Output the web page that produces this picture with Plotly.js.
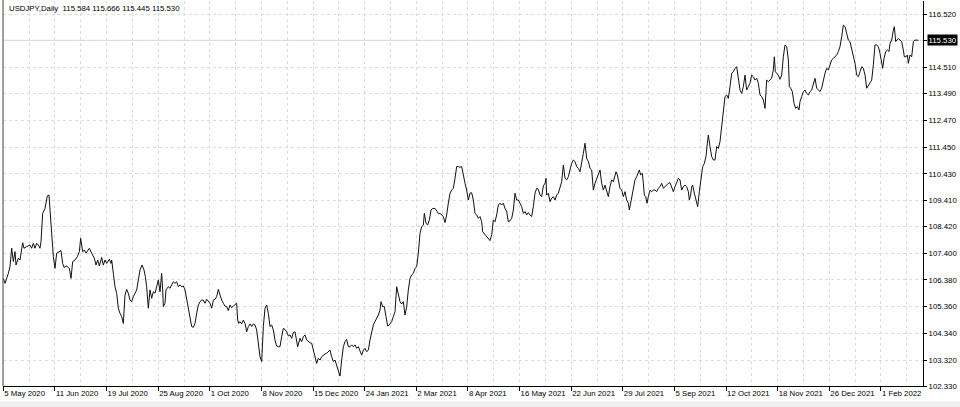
<!DOCTYPE html>
<html>
<head>
<meta charset="utf-8">
<script src="https://cdn.plot.ly/plotly-3.0.1.min.js"></script>
<style>
html,body{margin:0;padding:0;background:#fff;}
#chart{width:960px;height:407px;}
</style>
</head>
<body>
<div id="chart"></div>
<script>
// Trading-day position (days since 5 May 2020) and daily close, USDJPY
const dayA = [
0.0,0.86,2.54,3.38,4.22,5.05,5.89,6.40,7.57,8.41,
9.76,10.43,11.77,13.45,14.29,15.13,15.97,16.81,17.65,18.48,
18.99,19.83,21.00,22.18,23.02,23.52,24.36,25.20,26.04,26.88,
28.22,29.06,29.90,30.57,31.91,33.26,34.10,34.94,36.11,37.29,
38.29,38.96,39.97,40.81,41.65,42.49,43.33,44.50,45.85,46.69,
47.53,48.37,49.54,50.38,51.22,52.06,53.40,54.24,54.58,55.42,
56.26,57.10,57.93,58.77,59.61,60.45,61.29,62.13,62.97,63.81,
64.65,65.49,66.33,67.17,68.01,68.85,69.85,70.86,71.53,72.20,
73.04,73.88,74.72,75.56,76.40,77.24,78.08,78.92,79.76,80.26,
80.60,81.44,81.94,83.11,83.95,84.79,85.63,86.47,87.31,88.15,
88.99,89.83,90.67,91.51,92.35,93.19,94.03,94.87,95.71,96.54,
97.38,98.22,99.06,99.90,100.74,101.58,102.42,103.26,104.10,104.94,
105.78,106.62,107.46,108.29,109.13,109.97,110.81,111.65,112.49,113.33,
114.17,115.01,115.85,116.69,117.53,118.03,118.54,119.21,120.05,120.89,
121.72,122.56,123.40,124.24,125.08,125.92,126.76,127.60,128.44,129.28,
130.12,130.96,131.80,132.64,133.48,134.32,135.15,135.99,136.83,137.67,
138.51,139.35,140.19,141.03,141.87,142.71,143.55,144.39,145.23,146.07,
146.91,147.75,148.25];
const closeA = [
106.44,106.25,106.63,106.89,107.59,107.08,107.46,106.95,107.21,107.14,
107.80,107.59,107.65,107.71,107.59,107.78,107.59,107.78,107.71,107.59,
107.84,108.92,109.11,109.59,109.62,108.92,108.16,107.27,106.82,107.40,
107.46,107.50,107.01,106.86,106.91,106.82,106.44,107.08,107.14,107.27,
107.46,107.97,107.46,107.52,107.40,107.52,107.59,107.40,107.21,106.95,
107.14,106.91,107.24,106.95,107.14,107.01,107.17,107.01,107.14,106.63,
106.12,105.87,105.30,105.10,104.98,104.72,105.80,106.02,105.87,105.61,
105.55,105.74,105.87,106.00,106.38,106.76,106.95,106.76,106.51,106.12,
105.30,106.00,105.68,105.93,105.87,106.12,106.38,105.93,106.63,106.00,
105.36,105.49,106.00,106.12,106.06,106.19,106.31,106.25,106.31,106.12,
106.19,106.12,106.15,106.00,105.61,105.23,104.85,104.60,104.57,104.72,
105.10,105.42,105.55,105.61,105.61,105.49,105.64,105.55,105.49,105.30,
105.61,105.64,105.74,106.02,105.80,105.61,105.49,105.38,105.36,105.21,
105.42,105.32,105.38,105.42,105.49,104.85,104.72,104.79,104.70,104.85,
104.72,104.40,104.60,104.70,104.60,104.70,104.66,104.47,103.96,103.45,
103.26,104.60,105.30,105.42,105.10,104.60,104.66,104.47,104.08,103.86,
103.83,103.83,104.21,104.53,104.49,104.40,104.24,104.28,104.15,104.37,
104.40,104.08,103.83];

const dayB = [
149.42,150.26,151.10,151.94,152.78,153.62,154.46,155.30,156.13,156.97,
157.81,158.65,159.49,160.33,161.17,162.01,162.85,163.69,164.53,165.37,
166.21,167.05,167.89,168.73,169.56,170.40,171.24,172.08,172.92,173.76,
174.60,175.44,176.28,177.12,177.96,178.80,179.64,180.48,181.32,182.15,
182.99,183.83,184.67,185.51,186.35,187.19,188.03,188.87,189.71,190.21,
191.05,191.89,192.73,193.57,194.41,195.59,196.42,197.26,198.10,198.94,
199.78,200.62,201.46,202.30,203.14,203.98,204.82,205.66,206.50,207.33,
208.17,209.01,209.85,210.69,211.53,212.04,212.87,213.71,214.55,215.39,
216.23,217.41,218.25,219.09,219.93,220.77,221.60,222.44,223.28,224.12,
224.96,225.80,226.64,227.48,228.32,229.16,230.00,230.84,231.68,232.52,
233.36,234.19,235.03,235.87,236.71,237.55,238.39,239.23,240.07,240.91,
241.41,242.08,242.59,243.43,244.27,245.11,245.95,246.78,247.62,248.46,
249.30,250.14,250.98,251.82,252.66,253.50,254.34,255.18,256.02,256.86,
257.70,258.54,259.37,260.21,261.05,261.89,262.73,263.57,264.41,265.25,
266.09,266.93,267.77,268.61,269.45,270.29,271.13,271.97,272.80,273.31,
273.64,274.48,275.32,276.16,277.00,277.84,278.68,279.52,280.36,281.20,
282.04,282.88,283.72,284.56,285.39,286.23,287.07,287.91,288.75,289.59,
290.43,291.27,292.11,292.95,293.79,294.63,295.47,296.31,297.15,297.99,
298.83,299.67];
const closeB = [
104.15,104.02,104.21,104.28,104.09,104.02,103.98,103.96,103.70,103.45,
103.19,103.39,103.32,103.45,103.51,103.55,103.58,103.64,103.70,103.45,
103.26,103.32,103.13,102.94,102.71,103.32,103.83,104.02,104.11,103.83,
103.83,103.90,103.83,103.90,103.77,103.83,103.64,103.51,103.70,103.77,
103.64,103.70,104.09,104.40,104.66,104.79,104.91,105.04,105.23,105.55,
105.36,105.36,104.98,104.62,104.66,104.79,104.98,105.17,106.12,105.87,
105.55,105.46,105.55,105.04,105.36,106.00,106.44,106.57,106.63,106.82,
106.89,107.40,108.16,108.41,108.48,108.92,108.54,108.48,108.67,109.05,
109.11,109.11,108.99,108.92,108.92,108.86,108.80,108.57,108.86,109.31,
109.69,109.81,109.88,110.26,110.71,110.71,110.68,110.71,110.32,110.07,
109.81,109.43,109.69,109.71,109.43,108.92,108.86,108.73,108.80,108.60,
108.22,108.16,108.10,108.03,107.97,107.88,108.10,108.67,108.60,108.86,
109.24,109.31,109.24,109.31,109.11,108.99,108.60,108.64,108.73,109.05,
109.69,109.43,109.43,109.31,109.18,108.92,108.99,108.86,108.95,108.86,
108.80,109.18,109.69,109.88,109.84,109.62,109.56,109.97,110.07,110.26,
109.62,109.69,109.37,109.50,109.56,109.43,109.62,109.69,109.97,110.13,
110.77,110.26,110.20,110.32,110.58,110.83,110.96,110.90,110.71,110.64,
110.51,110.96,111.21,111.60,111.02,110.90,110.64,110.58,109.81,110.07,
110.26,110.39];

const dayC = [
300.50,301.34,302.18,303.02,303.86,304.70,305.54,306.38,307.21,308.05,
308.56,309.23,309.73,310.57,311.41,312.25,313.09,313.93,314.77,315.27,
315.94,316.45,317.29,318.13,318.97,319.81,320.31,320.98,321.82,322.32,
322.83,323.50,324.17,324.84,325.68,326.52,327.36,328.20,329.04,329.88,
330.72,331.56,332.40,333.23,334.07,334.91,335.75,336.59,337.43,338.27,
339.11,339.95,340.79,341.63,342.47,343.31,344.15,344.99,345.49,346.16,
346.66,347.17,348.01,348.85,349.69,350.52,351.36,352.20,353.04,353.88,
354.55,355.06,355.90,356.74,357.58,358.41,359.25,360.09,360.93,361.77,
362.61,363.45,364.29,365.13,365.97,366.81,367.65,368.49,369.33,370.17,
371.01,371.85,372.68,373.52,374.36,375.20,376.04,376.88,377.72,378.56,
379.40,380.24,381.08,381.92,382.76,383.60,384.44,385.28,386.11,386.95,
387.79,388.30,388.80,389.47,390.31,391.15,391.99,392.83,393.67,394.51,
395.35,395.85,396.52,397.36,398.20,399.04,399.88,400.72,401.22,402.06,
402.90,403.74,404.58,405.42,406.26,407.10,407.94,408.78,409.62,410.46,
411.29,412.13,412.97,413.81,414.65,415.49,416.33,417.17,418.01,418.85,
419.69,420.53,421.37,422.21,423.05,423.89,424.72,425.56,426.40,427.24,
428.08,428.92,429.76,430.60,431.44,432.28,433.12,433.96,434.80,435.64,
436.48,437.32,438.15,438.99,439.83,440.67,441.51,442.35,442.86,443.53,
444.37,445.21,446.05,446.55,447.39,448.23,448.73,449.40,449.90,450.74,
451.58,452.42,453.26,453.77,454.61,455.28,455.78,456.62,457.46,458.30,
459.14,459.98,460.82];
const closeC = [
110.58,110.07,109.81,110.00,109.81,109.56,109.94,110.20,110.13,110.45,
110.51,110.39,110.20,109.88,109.81,109.56,109.75,109.43,109.31,109.05,
109.31,109.56,109.94,110.20,110.32,110.45,110.58,110.39,110.45,110.07,
109.62,109.56,109.31,109.56,109.81,109.75,109.81,109.81,109.75,109.88,
109.94,110.07,109.88,109.94,110.00,110.07,110.09,109.94,109.75,109.94,
110.07,110.26,110.20,109.81,109.94,110.00,109.94,109.75,109.43,109.62,
109.94,110.00,109.69,109.37,109.18,109.75,110.32,110.70,110.83,111.09,
111.60,111.91,111.47,111.09,110.96,110.96,111.47,111.40,111.66,112.23,
112.61,113.38,113.44,113.31,113.76,114.27,114.33,114.46,114.52,114.14,
113.63,113.50,113.76,114.20,113.63,113.76,113.89,114.20,114.14,114.01,
114.08,113.89,113.44,113.38,113.25,112.93,114.01,113.95,114.01,114.08,
114.40,114.90,114.33,114.27,114.20,114.04,114.20,114.90,115.35,115.29,
114.78,113.76,113.70,113.57,113.12,112.93,113.00,112.87,113.19,113.38,
113.57,113.63,113.50,113.44,113.57,113.63,113.82,114.08,113.70,113.63,
113.57,113.70,114.01,114.27,114.46,114.40,114.59,114.78,114.84,114.90,
114.97,115.10,115.29,115.67,116.11,116.05,115.73,115.54,115.48,115.22,
115.03,114.65,114.20,114.14,114.33,114.52,114.46,114.20,113.70,113.82,
113.95,114.01,114.59,115.35,115.35,115.29,115.03,114.59,114.46,114.84,
115.10,115.16,115.10,115.41,115.54,115.92,116.05,115.48,115.54,115.60,
115.54,115.48,115.16,114.90,114.90,114.97,114.65,114.97,114.90,115.48,
115.54,115.52,115.53];

const tickDays = [0,26,52,78,104,130,156,182,208,234,260,286,312,338,364,390,416,442];
const tickLabels = ['5 May 2020','11 Jun 2020','19 Jul 2020','25 Aug 2020','1 Oct 2020','8 Nov 2020',
  '15 Dec 2020','24 Jan 2021','2 Mar 2021','8 Apr 2021','16 May 2021','22 Jun 2021','29 Jul 2021',
  '5 Sep 2021','12 Oct 2021','18 Nov 2021','26 Dec 2021','1 Feb 2022'];
const priceTicks = [116.52,115.53,114.51,113.49,112.47,111.45,110.43,109.41,108.42,107.40,106.38,105.36,104.34,103.32,102.33];
const priceLabels = ['116.520','','114.510','113.490','112.470','111.450','110.430','109.410','108.420','107.400','106.380','105.360','104.340','103.320','102.330'];
const symbol = 'USDJPY,Daily';
const ohlc = ['115.584','115.666','115.445','115.530'];
const lastPrice = 115.53;

const days = dayA.concat(dayB, dayC);
const closes = closeA.concat(closeB, closeC);
const midDays = tickDays.map(d => d + 13);

const FONT = 'Liberation Sans, Arial, sans-serif';
const FS = 7.8;
const GRID = '#dcdcdc';

const trace = {
  x: days, y: closes, type: 'scatter', mode: 'lines',
  line: {color: '#111111', width: 1}, hoverinfo: 'skip'
};

const layout = {
  width: 960, height: 407,
  margin: {l: 3, r: 37, t: 1, b: 21, pad: 0},
  paper_bgcolor: '#ffffff', plot_bgcolor: '#ffffff',
  showlegend: false,
  font: {family: FONT, size: FS, color: '#000'},
  xaxis: {
    range: [-0.15, 463.16], fixedrange: true,
    tickmode: 'array', tickvals: tickDays, ticktext: tickLabels,
    tickangle: 0, automargin: false,
    ticks: 'outside', ticklen: 4, tickwidth: 1, tickcolor: '#000',
    ticklabelposition: 'outside right',
    tickfont: {family: FONT, size: FS, color: '#000'},
    showline: true, linecolor: '#000', linewidth: 1,
    showgrid: true, gridcolor: GRID, gridwidth: 1, griddash: '3px,3px',
    minor: {tickmode: 'array', tickvals: midDays, showgrid: true, gridcolor: GRID, griddash: '3px,3px', ticks: ''},
    zeroline: false
  },
  yaxis: {
    side: 'right', range: [102.33, 117.03], fixedrange: true, automargin: false,
    tickmode: 'array', tickvals: priceTicks, ticktext: priceLabels,
    ticks: 'outside', ticklen: 3, tickwidth: 1, tickcolor: '#000',
    tickfont: {family: FONT, size: FS, color: '#000'},
    showline: true, linecolor: '#000', linewidth: 1,
    showgrid: true, gridcolor: GRID, gridwidth: 1, griddash: '3px,3px',
    zeroline: false
  },
  shapes: [
    {type: 'line', xref: 'paper', yref: 'y', x0: 0, x1: 1, y0: lastPrice, y1: lastPrice,
     line: {color: '#d4d4d4', width: 1}, layer: 'below'},
    {type: 'line', xref: 'paper', yref: 'paper', x0: 0, x1: 0, y0: 0, y1: 1.01,
     line: {color: '#404040', width: 1}},
    {type: 'rect', xref: 'paper', yref: 'paper', x0: -0.01, x1: 1.05, y0: -0.06, y1: -0.04,
     fillcolor: '#f0f0f0', line: {width: 0}, layer: 'below'}
  ],
  annotations: [
    {xref: 'paper', yref: 'paper', x: 0, y: 1, xanchor: 'left', yanchor: 'top', xshift: 4, yshift: -1,
     text: symbol + '\u00a0\u00a0' + ohlc.join(' '), showarrow: false,
     font: {family: FONT, size: FS, color: '#000'}},
    {xref: 'paper', yref: 'y', x: 1, y: lastPrice, xanchor: 'left', yanchor: 'middle', xshift: 4,
     text: ohlc[3], showarrow: false, bgcolor: '#000', borderpad: 0.5,
     font: {family: FONT, size: FS, color: '#fff'}}
  ]
};

Plotly.newPlot('chart', [trace], layout, {displayModeBar: false, staticPlot: true});
</script>
</body>
</html>
